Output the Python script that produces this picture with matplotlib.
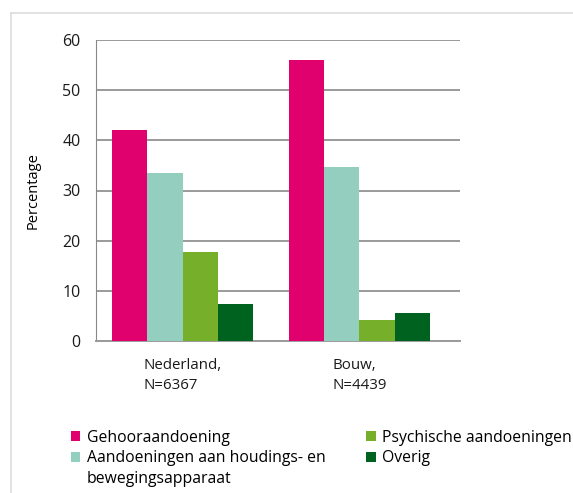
import numpy as np
import matplotlib.pyplot as plt
from matplotlib.lines import Line2D

plt.rcParams['font.family'] = ['Open Sans', 'DejaVu Sans']

groepen = ['Nederland,\nN=6367', 'Bouw,\nN=4439']
reeksen = ['Gehooraandoening',
           'Aandoeningen aan houdings- en',
           'Psychische aandoeningen',
           'Overig']
reeks2_vervolg = 'bewegingsapparaat'
gehoor = [42, 56]
houding = [33.5, 34.7]
psychisch = [17.7, 4.1]
overig = [7.3, 5.5]
kleuren = ['#e0006e', '#93cebe', '#76b02a', '#00621f']

fig = plt.figure(figsize=(5.73, 4.93), dpi=100)
ax = fig.add_axes([96/573, 1-341/493, 364/573, 301/493])

x = np.arange(len(groepen))
w = 0.2
waarden = [gehoor, houding, psychisch, overig]
for i, (naam, v) in enumerate(zip(reeksen, waarden)):
    ax.bar(x + (i - 1.5)*w, v, w, color=kleuren[i], label=naam, zorder=3)

ax.set_ylim(0, 60)
ax.set_xlim(-0.49, 1.57)
ax.set_yticks(range(0, 61, 10))
ax.yaxis.grid(True, color='#9a9a9a', linewidth=1.4, zorder=0)
ax.set_axisbelow(True)
for s in ['top', 'right']:
    ax.spines[s].set_visible(False)
ax.spines['left'].set_color('#888888')
ax.spines['bottom'].set_color('#9a9a9a')
ax.spines['bottom'].set_linewidth(1.4)
ax.tick_params(length=0, labelsize=11.5, colors='#1a1a1a', pad=11)
ax.set_xticks(x)
ax.set_xticklabels(groepen, multialignment='left', fontsize=10.8, linespacing=1.45)
ax.tick_params(axis='x', pad=12)
ax.set_ylabel('Percentage', fontsize=10.5, labelpad=16)

# kader rond de figuur
fig.add_artist(Line2D([11/573, 11/573], [0, 1-13/493], color='#dddddd', lw=1.2))
fig.add_artist(Line2D([11/573, 1], [1-13/493, 1-13/493], color='#dddddd', lw=1.2))

leg = fig.legend(loc='upper left', bbox_to_anchor=(63/573, 1-422/493), ncol=2,
                 frameon=False, fontsize=11.3, handlelength=0.6, handleheight=0.6,
                 handletextpad=0.4, columnspacing=2.6, borderpad=0, labelspacing=0.28)

# tweede regel van het tweede legenda-item
fig.canvas.draw()
bb = leg.get_texts()[1].get_window_extent()
fig.text(bb.x0/fig.bbox.width, (bb.y0 - 21)/fig.bbox.height, reeks2_vervolg,
         fontsize=11.3, ha='left', va='bottom')

fig.savefig('out.png', dpi=100)
